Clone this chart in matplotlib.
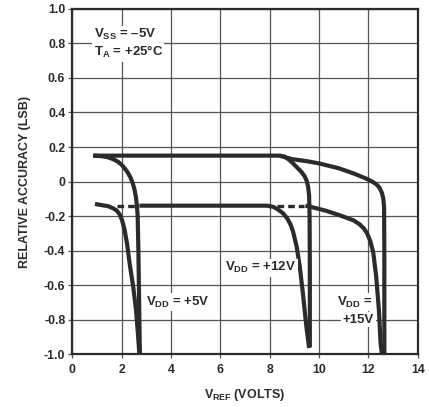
import matplotlib
matplotlib.use("Agg")
import matplotlib.pyplot as plt
from matplotlib.ticker import FuncFormatter

plt.rcParams["font.family"] = ["Liberation Sans", "DejaVu Sans"]
plt.rcParams["font.weight"] = "bold"
plt.rcParams["axes.labelweight"] = "bold"
plt.rcParams["mathtext.fontset"] = "custom"
plt.rcParams["mathtext.rm"] = "Liberation Sans:bold"
plt.rcParams["mathtext.it"] = "Liberation Sans:bold"
plt.rcParams["mathtext.bf"] = "Liberation Sans:bold"

INK = "#2b2b2b"

# ── curves (VREF volts, relative accuracy LSB) ──
vdd5_upper_x = [0.85, 1.2, 1.45, 1.65, 1.85, 2.0, 2.15, 2.27, 2.37, 2.45, 2.52, 2.58,
                2.62, 2.65, 2.68, 2.71, 2.74]
vdd5_upper_y = [0.15, 0.147, 0.14, 0.13, 0.115, 0.097, 0.072, 0.047, 0.02, -0.01, -0.045, -0.09,
                -0.14, -0.2, -0.4, -0.7, -1.0]

vdd5_lower_x = [0.92, 1.2, 1.45, 1.65, 1.8, 1.92, 2.02, 2.12, 2.22, 2.34, 2.47, 2.58, 2.66, 2.72]
vdd5_lower_y = [-0.13, -0.137, -0.143, -0.155, -0.168, -0.19, -0.225, -0.28, -0.36, -0.49,
                -0.61, -0.74, -0.88, -1.0]

vdd12_upper_x = [0.85, 8.4, 8.6, 8.8, 8.95, 9.1, 9.22, 9.32, 9.42, 9.5, 9.56, 9.6, 9.62, 9.63, 9.63]
vdd12_upper_y = [0.15, 0.15, 0.145, 0.125, 0.105, 0.083, 0.066, 0.05, 0.03, 0.005, -0.03, -0.08,
                 -0.2, -0.5, -0.96]

vdd12_lower_x = [2.72, 7.9, 8.15, 8.35, 8.55, 8.72, 8.85, 8.95, 9.1, 9.22, 9.35, 9.49, 9.6]
vdd12_lower_y = [-0.14, -0.14, -0.147, -0.163, -0.185, -0.215, -0.25, -0.29, -0.38, -0.49,
                 -0.65, -0.84, -0.965]

vdd15_upper_x = [8.4, 8.9, 9.5, 10.0, 10.8, 11.4, 11.9, 12.15, 12.32, 12.45, 12.55, 12.61,
                 12.64, 12.65, 12.65]
vdd15_upper_y = [0.15, 0.13, 0.118, 0.105, 0.077, 0.047, 0.018, 0.0, -0.015, -0.035, -0.065,
                 -0.1, -0.15, -0.4, -1.0]

vdd15_lower_x = [9.45, 9.65, 10.3, 10.83, 11.4, 11.65, 11.82, 11.95, 12.08, 12.2, 12.32,
                 12.43, 12.5, 12.55]
vdd15_lower_y = [-0.14, -0.146, -0.17, -0.195, -0.225, -0.248, -0.272, -0.30, -0.345, -0.41,
                 -0.55, -0.745, -0.94, -1.0]

# dashed (extrapolated) stretches of the lower limit
dash_left_x = [1.8, 2.6]
dash_right_x = [8.3, 9.4]
dash_y = [-0.14, -0.14]

x_ticks = [0, 2, 4, 6, 8, 10, 12, 14]
y_ticks = [1.0, 0.8, 0.6, 0.4, 0.2, 0.0, -0.2, -0.4, -0.6, -0.8, -1.0]

fig = plt.figure(figsize=(4.29, 4.07), dpi=100)
ax = fig.add_axes([0.1685, 0.130, 0.805, 0.848])

ax.set_xlim(0, 14)
ax.set_ylim(-1.0, 1.0)
ax.set_xticks(x_ticks)
ax.set_yticks(y_ticks)
ax.yaxis.set_major_formatter(FuncFormatter(lambda v, p: "0" if abs(v) < 1e-9 else f"{v:.1f}"))
ax.grid(True, color="#555555", linewidth=0.9)
ax.set_axisbelow(True)
ax.tick_params(length=3, width=0.9, color="#555555", labelsize=8.8, labelcolor=INK, pad=2)
ax.tick_params(axis="x", pad=4)
for lab in ax.get_xticklabels() + ax.get_yticklabels():
    lab.set_fontweight("bold")
for sp in ax.spines.values():
    sp.set_linewidth(1.6)
    sp.set_color(INK)

lw = 3.0
for xs, ys in [(vdd5_upper_x, vdd5_upper_y), (vdd5_lower_x, vdd5_lower_y),
               (vdd12_upper_x, vdd12_upper_y), (vdd12_lower_x, vdd12_lower_y),
               (vdd15_upper_x, vdd15_upper_y), (vdd15_lower_x, vdd15_lower_y)]:
    ax.plot(xs, ys, color=INK, linewidth=lw, solid_capstyle="butt",
            solid_joinstyle="round", zorder=3)

for xs in [dash_left_x, dash_right_x]:
    ax.plot(xs, dash_y, color=INK, linewidth=2.4, linestyle=(0, (2.0, 1.2)), zorder=3)

box = dict(facecolor="white", edgecolor="none", pad=1.0)
fs = 9.5
ax.text(0.86, 0.85, r"$\mathregular{V_{SS}}$ = –5V", fontsize=fs, color=INK,
        ha="left", va="center", bbox=box, zorder=4)
ax.text(0.86, 0.75, r"$\mathregular{T_{A}}$ = +25°C", fontsize=fs, color=INK,
        ha="left", va="center", bbox=box, zorder=4)
ax.text(4.28, -0.70, r"$\mathregular{V_{DD}}$ = +5V", fontsize=fs, color=INK,
        ha="center", va="center", bbox=box, zorder=4)
ax.text(7.65, -0.50, r"$\mathregular{V_{DD}}$ = +12V", fontsize=fs, color=INK,
        ha="center", va="center", bbox=box, zorder=4)
ax.text(11.45, -0.70, r"$\mathregular{V_{DD}}$ =", fontsize=fs, color=INK,
        ha="center", va="center", bbox=box, zorder=4)
ax.text(11.6, -0.80, "+15V", fontsize=fs, color=INK,
        ha="center", va="center", bbox=box, zorder=4)

ax.set_xlabel(r"$\mathregular{V_{REF}}$ (VOLTS)", fontsize=9, color=INK, labelpad=8)
ax.set_ylabel("RELATIVE ACCURACY (LSB)", fontsize=9, color=INK, labelpad=9)

fig.savefig("out.png", dpi=100)
